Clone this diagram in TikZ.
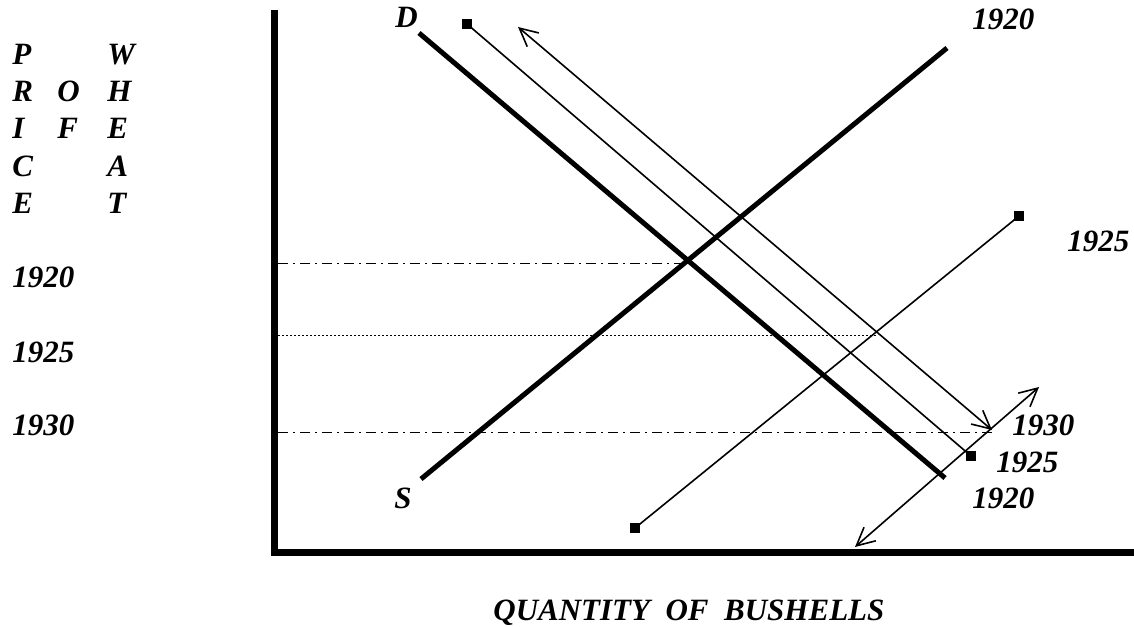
\documentclass[tikz,border=0pt]{standalone}
\usepackage{fontspec}
\setmainfont{Liberation Serif}
\usetikzlibrary{arrows.meta}
\begin{document}
\begin{tikzpicture}[x=0.5pt,y=-0.5pt,
  lbl/.style={font=\fontsize{15.5pt}{18.5pt}\selectfont\bfseries\itshape, inner sep=0pt, anchor=base west},
  axisline/.style={line width=3.5pt, line join=miter},
  curveline/.style={line width=2.5pt},
  thinline/.style={line width=0.8pt},
  sq/.style={fill=black, draw=none, rectangle, minimum size=5pt, inner sep=0pt},
  dashdotline/.style={line width=0.5pt, dash pattern=on 5pt off 2.5pt on 1pt off 2.5pt},
  dotline/.style={line width=0.5pt, dash pattern=on 1pt off 1pt},
  dblarrow/.style={thinline, {Straight Barb[length=9pt,width=9pt]}-{Straight Barb[length=9pt,width=9pt]}}
]
\useasboundingbox (0,0) rectangle (1134,626);

% axes
\coordinate (ytop) at (274.5,10);
\coordinate (origin) at (274.5,552);
\coordinate (xend) at (1134,552);
\draw[axisline] (ytop) -- (origin) -- (xend);

% axis titles
\foreach \l [count=\i] in {P,R,I,C,E}
  \node[lbl] (pc\i) at (12,{65+37*(\i-1)}) {\l};
\node[lbl] (of1) at (57,102) {O};
\node[lbl] (of2) at (57,139) {F};
\foreach \l [count=\i] in {W,H,E,A,T}
  \node[lbl] (wh\i) at (107,{65+37*(\i-1)}) {\l};
\node[lbl] (qty) at (493,620) {QUANTITY\ \ OF\ \ BUSHELLS};

% price labels
\node[lbl] (p1920) at (12,287) {1920};
\node[lbl] (p1925) at (12,362) {1925};
\node[lbl] (p1930) at (12,435) {1930};

% horizontal price lines
\coordinate (h1a) at (278,263); \coordinate (h1b) at (687,263);
\coordinate (h2a) at (278,335); \coordinate (h2b) at (877,335);
\coordinate (h3a) at (278,432); \coordinate (h3b) at (992,432);
\draw[dashdotline] (h1a) -- (h1b);
\draw[dotline] (h2a) -- (h2b);
\draw[dashdotline] (h3a) -- (h3b);

% demand and supply 1920
\coordinate (d1) at (419,33); \coordinate (d2) at (945,478);
\coordinate (s1) at (421,479); \coordinate (s2) at (947,48);
\draw[curveline] (d1) -- (d2);
\draw[curveline] (s1) -- (s2);
\node[lbl] (dlab) at (395,28) {D};
\node[lbl] (slab) at (394,508) {S};

% 1925 lines with squares
\node[sq] (q1) at (467,24) {};
\node[sq] (q2) at (971,456) {};
\node[sq] (q3) at (635,528) {};
\node[sq] (q4) at (1019,216) {};
\draw[thinline] (q1.center) -- (q2.center);
\draw[thinline] (q3.center) -- (q4.center);

% 1930 arrows
\coordinate (a1) at (518,27); \coordinate (a2) at (992,430);
\coordinate (b1) at (855,547); \coordinate (b2) at (1039,387);
\draw[dblarrow] (a1) -- (a2);
\draw[dblarrow] (b1) -- (b2);

% year labels
\node[lbl] (y1920s) at (972,30) {1920};
\node[lbl] (y1925s) at (1067,251) {1925};
\node[lbl] (y1930d) at (1012,435) {1930};
\node[lbl] (y1925d) at (996,472) {1925};
\node[lbl] (y1920d) at (972,508) {1920};
\end{tikzpicture}
\end{document}
